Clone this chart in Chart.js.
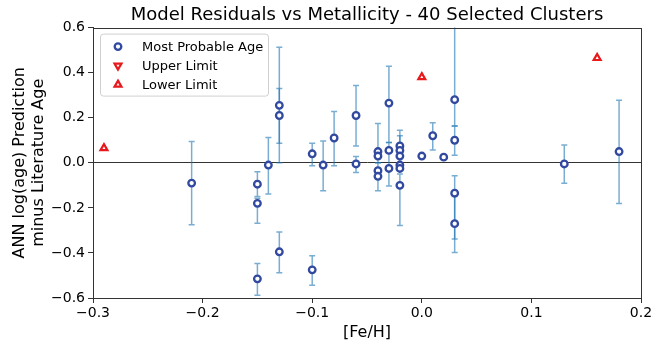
<!DOCTYPE html>
<html>
<head>
<meta charset="utf-8">
<script src="https://cdn.jsdelivr.net/npm/chart.js@4.4.1/dist/chart.umd.min.js"></script>
<style>
  html, body { margin: 0; padding: 0; background: #fff; }
  #plot { display: block; }
</style>
</head>
<body>
<canvas id="plot" width="670" height="342"></canvas>
<script>
// [Fe/H] and residual of the "most probable age" clusters
const ageX = [-0.21, -0.15, -0.15, -0.15, -0.14, -0.13, -0.13, -0.13, -0.10, -0.10,
              -0.09, -0.08, -0.06, -0.06, -0.04, -0.04, -0.04, -0.04, -0.03, -0.03,
              -0.03, -0.02, -0.02, -0.02, -0.02, -0.02, -0.02, 0.00, 0.01, 0.02,
              0.03, 0.03, 0.03, 0.03, 0.13, 0.18];
const ageY = [-0.09, -0.095, -0.18, -0.515, -0.01, 0.255, 0.21, -0.395, 0.04, -0.475,
              -0.01, 0.11, 0.21, -0.005, 0.05, 0.03, -0.035, -0.06, 0.265, 0.055,
              -0.025, 0.075, 0.055, 0.03, -0.01, -0.025, -0.10, 0.03, 0.12, 0.025,
              0.28, 0.10, -0.135, -0.27, -0.005, 0.05];
// error bar ends (null = no bar drawn)
const errLo = [-0.275, -0.15, -0.268, -0.588, -0.138, 0.0, 0.087, -0.488, -0.013, -0.543,
               -0.124, -0.013, 0.075, -0.043, 0.0, null, -0.124, null, 0.09, -0.103,
               null, 0.03, 0.0, null, null, null, -0.278, null, 0.057, null,
               0.163, 0.034, -0.338, -0.398, -0.091, -0.181];
const errHi = [0.095, -0.04, -0.157, -0.447, 0.112, 0.513, 0.33, -0.307, 0.087, -0.413,
               0.097, 0.228, 0.343, 0.028, 0.174, null, 0.0, null, 0.428, 0.09,
               null, 0.144, 0.12, null, null, null, -0.05, null, 0.178, null,
               0.75, 0.163, -0.057, -0.15, 0.079, 0.278];

const upperX = [];
const upperY = [];
const lowerX = [-0.29, 0.00, 0.16];
const lowerY = [0.065, 0.38, 0.465];

const xTicks = [-0.3, -0.2, -0.1, 0.0, 0.1, 0.2];
const yTicks = [-0.6, -0.4, -0.2, 0.0, 0.2, 0.4, 0.6];

const FONT = 'DejaVu Sans';

const toPts = (xs, ys) => xs.map((v, i) => ({x: v, y: ys[i]}));
const fmt = v => Math.abs(v) < 1e-9 ? '0.0' : v.toFixed(1).replace('-', '\u2212');

// vertical error bars with caps, under the markers
const errorBars = {
  id: 'errorBars',
  beforeDatasetsDraw(chart) {
    const {ctx, chartArea, scales: {x, y}} = chart;
    ctx.save();
    ctx.beginPath();
    ctx.rect(chartArea.left, chartArea.top, chartArea.width, chartArea.height);
    ctx.clip();
    ctx.strokeStyle = 'rgba(31,119,180,0.6)';
    ctx.lineWidth = 1.5;
    ageX.forEach((v, i) => {
      if (errLo[i] == null) return;
      const px = x.getPixelForValue(v);
      const y1 = y.getPixelForValue(errLo[i]);
      const y2 = y.getPixelForValue(errHi[i]);
      ctx.beginPath();
      ctx.moveTo(px, y1); ctx.lineTo(px, y2);
      ctx.moveTo(px - 3, y1); ctx.lineTo(px + 3, y1);
      ctx.moveTo(px - 3, y2); ctx.lineTo(px + 3, y2);
      ctx.stroke();
    });
    ctx.restore();
  }
};

// top/right spines + legend box in the upper left
const frameAndLegend = {
  id: 'frameAndLegend',
  afterDraw(chart) {
    const {ctx, chartArea: a} = chart;
    ctx.save();
    ctx.strokeStyle = '#333';
    ctx.lineWidth = 1;
    ctx.strokeRect(Math.round(a.left) + 0.5, Math.round(a.top) + 0.5,
                   Math.round(a.width), Math.round(a.height));

    const bx = a.left + 7, by = a.top + 6, bw = 168, bh = 62;
    ctx.beginPath();
    ctx.roundRect(bx + 0.5, by + 0.5, bw, bh, 3);
    ctx.fillStyle = 'rgba(255,255,255,0.85)';
    ctx.fill();
    ctx.strokeStyle = '#d0d0d0';
    ctx.stroke();

    ctx.font = '13px "' + FONT + '"';
    ctx.textBaseline = 'middle';
    chart.data.datasets.forEach((ds, i) => {
      const yy = by + 13 + i * 19;
      ctx.fillStyle = ds.backgroundColor;
      ctx.strokeStyle = ds.borderColor;
      ctx.lineWidth = ds.borderWidth;
      Chart.helpers.drawPoint(ctx, {
        pointStyle: ds.pointStyle, radius: ds.pointRadius,
        rotation: ds.rotation || 0, borderWidth: ds.borderWidth
      }, bx + 18, yy);
      ctx.fillStyle = '#000';
      ctx.fillText(ds.label, bx + 42, yy + 1);
    });
    ctx.restore();
  }
};

new Chart(document.getElementById('plot'), {
  type: 'scatter',
  data: {
    datasets: [
      {
        label: 'Most Probable Age',
        data: toPts(ageX, ageY),
        pointStyle: 'circle',
        pointRadius: 3.3,
        borderWidth: 2.3,
        borderColor: '#3249a0',
        backgroundColor: '#ffffff'
      },
      {
        label: 'Upper Limit',
        data: toPts(upperX, upperY),
        pointStyle: 'triangle',
        rotation: 180,
        pointRadius: 4,
        borderWidth: 2.2,
        borderColor: '#e8191c',
        backgroundColor: '#ffffff'
      },
      {
        label: 'Lower Limit',
        data: toPts(lowerX, lowerY),
        pointStyle: 'triangle',
        pointRadius: 4,
        borderWidth: 2.2,
        borderColor: '#e8191c',
        backgroundColor: '#ffffff'
      }
    ]
  },
  options: {
    responsive: false,
    animation: false,
    devicePixelRatio: 1,
    layout: { padding: { left: 10, right: 29, top: 2, bottom: 0 } },
    plugins: {
      legend: { display: false },
      tooltip: { enabled: false },
      title: {
        display: true,
        fullSize: false,
        text: 'Model Residuals vs Metallicity - 40 Selected Clusters',
        color: '#000',
        font: { family: FONT, size: 18, weight: 'normal' },
        padding: { top: 3, bottom: 1 }
      }
    },
    scales: {
      x: {
        type: 'linear',
        min: xTicks[0],
        max: xTicks[xTicks.length - 1],
        afterBuildTicks: s => { s.ticks = xTicks.map(v => ({value: v})); },
        afterFit: s => { s.height = 44; },
        ticks: { callback: fmt, color: '#000', font: { family: FONT, size: 14 }, padding: 2, maxRotation: 0 },
        grid: { color: 'rgba(0,0,0,0)', tickColor: '#333', tickLength: 5 },
        border: { color: '#333' },
        title: { display: true, text: '[Fe/H]', color: '#000', font: { family: FONT, size: 16 }, padding: { top: 0, bottom: 0 } }
      },
      y: {
        type: 'linear',
        min: yTicks[0],
        max: yTicks[yTicks.length - 1],
        afterBuildTicks: s => { s.ticks = yTicks.map(v => ({value: v})); },
        afterFit: s => { s.width = 83; },
        ticks: { callback: fmt, color: '#000', font: { family: FONT, size: 14 }, padding: 3 },
        grid: {
          color: c => (c.tick && Math.abs(c.tick.value) < 1e-9) ? '#333' : 'rgba(0,0,0,0)',
          tickColor: '#333',
          tickLength: 5
        },
        border: { color: '#333' },
        title: {
          display: true,
          text: ['ANN log(age) Prediction', 'minus Literature Age'],
          color: '#000',
          font: { family: FONT, size: 16 },
          padding: { top: 0, bottom: 2 }
        }
      }
    }
  },
  plugins: [errorBars, frameAndLegend]
});
</script>
</body>
</html>
